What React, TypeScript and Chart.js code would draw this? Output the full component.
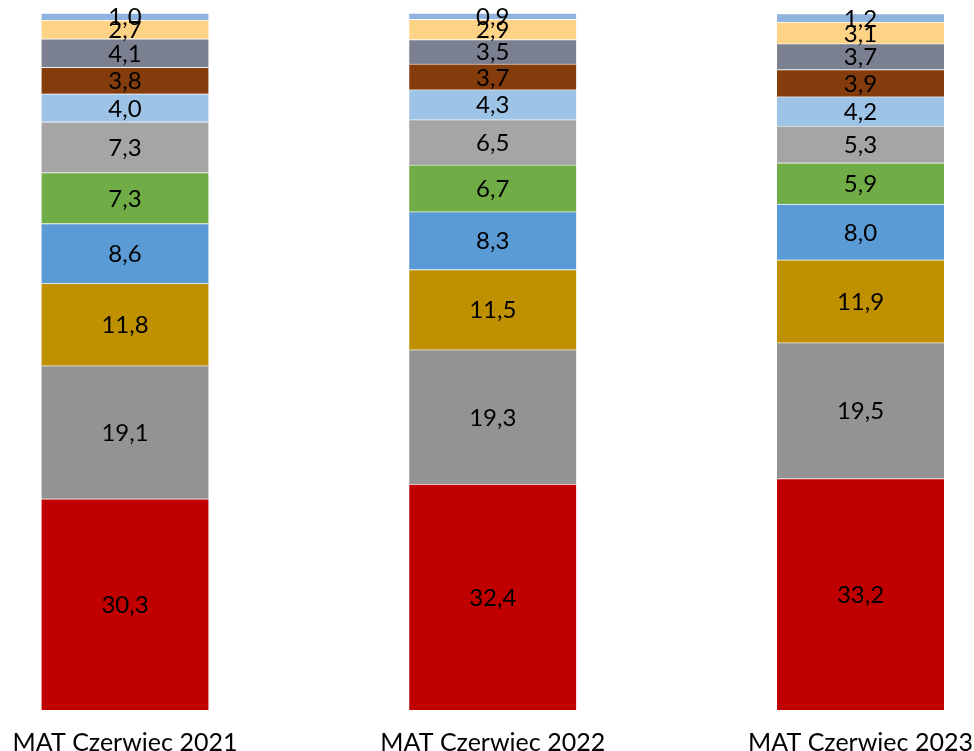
import React, { useEffect, useRef } from "react";
import { Chart, registerables } from "chart.js";

Chart.register(...registerables);

const categories = ["MAT Czerwiec 2021", "MAT Czerwiec 2022", "MAT Czerwiec 2023"];

// bottom to top
const s1 = [30.3, 32.4, 33.2];
const s2 = [19.1, 19.3, 19.5];
const s3 = [11.8, 11.5, 11.9];
const s4 = [8.6, 8.3, 8.0];
const s5 = [7.3, 6.7, 5.9];
const s6 = [7.3, 6.5, 5.3];
const s7 = [4.0, 4.3, 4.2];
const s8 = [3.8, 3.7, 3.9];
const s9 = [4.1, 3.5, 3.7];
const s10 = [2.7, 2.9, 3.1];
const s11 = [1.0, 0.9, 1.2];

const seriesValues = [s1, s2, s3, s4, s5, s6, s7, s8, s9, s10, s11];
const seriesColors = [
  "#C00000",
  "#939393",
  "#BF9000",
  "#5B9BD5",
  "#70AD47",
  "#A5A5A5",
  "#9DC3E6",
  "#843C0C",
  "#7A8090",
  "#FFD385",
  "#8FB3DE",
];

const FONT = "Lato, 'Open Sans', sans-serif";

const labelPlugin = {
  id: "segLabels",
  afterDatasetsDraw(chart: any) {
    const ctx = chart.ctx;
    ctx.save();
    ctx.font = `24px ${FONT}`;
    ctx.fillStyle = "#000";
    ctx.textAlign = "center";
    ctx.textBaseline = "middle";
    chart.data.datasets.forEach((ds: any, di: number) => {
      const meta = chart.getDatasetMeta(di);
      meta.data.forEach((el: any, i: number) => {
        const v = ds.data[i];
        const cy = (el.y + el.base) / 2;
        ctx.fillText(v.toFixed(1).replace(".", ","), el.x, cy + 1);
      });
    });
    ctx.restore();
  },
};

export default function App() {
  const ref = useRef<HTMLCanvasElement>(null);
  useEffect(() => {
    const chart = new Chart(ref.current!, {
      type: "bar",
      data: {
        labels: categories,
        datasets: seriesValues.map((d, i) => ({
          label: "s" + (i + 1),
          data: d,
          backgroundColor: seriesColors[i],
          borderColor: "rgba(255,255,255,0.35)",
          borderWidth: { top: 1 },
          borderSkipped: false,
          barThickness: 167,
          clip: false as any,
        })),
      },
      options: {
        animation: false,
        responsive: false,
        maintainAspectRatio: false,
        layout: { padding: { left: 125, right: 139.5, top: 13, bottom: -16 } },
        plugins: { legend: { display: false }, tooltip: { enabled: false } },
        scales: {
          x: {
            stacked: true,
            offset: false,
            grid: { display: false },
            border: { display: false },
            ticks: {
              color: "#000",
              font: { family: FONT, size: 25, lineHeight: 1.0 },
              padding: 12,
              maxRotation: 0,
              autoSkip: false,
            },
          },
          y: {
            stacked: true,
            display: false,
            min: 0,
            max: 100,
          },
        },
      },
      plugins: [labelPlugin],
    });
    return () => chart.destroy();
  }, []);
  return (
    <div style={{ position: "fixed", left: 0, top: 0, width: 974, height: 751, background: "#fff", overflow: "hidden" }}>
      <canvas ref={ref} width={1000} height={751} style={{ display: "block" }} />
    </div>
  );
}
